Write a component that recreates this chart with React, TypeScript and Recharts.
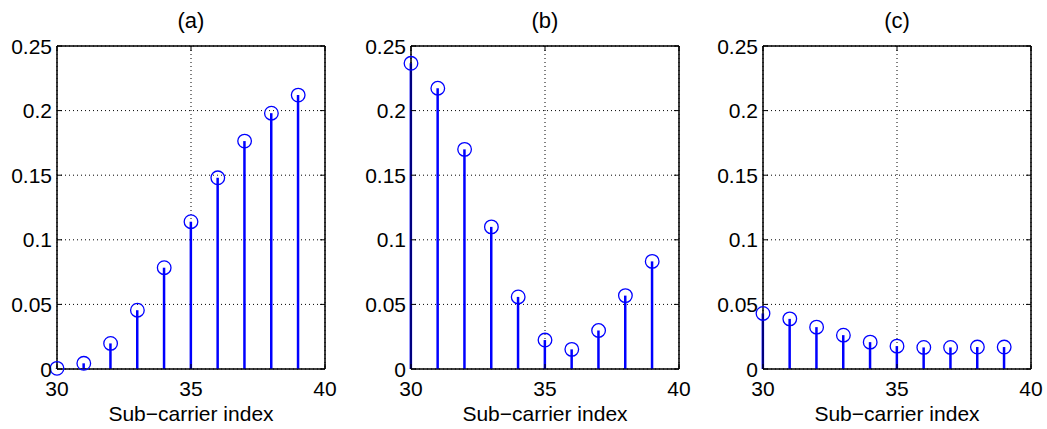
import React from 'react';
import { ComposedChart, Bar, Scatter, XAxis, YAxis, CartesianGrid, ReferenceArea } from 'recharts';

const subcarriers = [30, 31, 32, 33, 34, 35, 36, 37, 38, 39];
const seriesA = [0.0005, 0.0044, 0.0198, 0.0455, 0.0784, 0.114, 0.148, 0.1764, 0.198, 0.212];
const seriesB = [0.2366, 0.2173, 0.170, 0.110, 0.0558, 0.0224, 0.0152, 0.0298, 0.0568, 0.0833];
const seriesC = [0.043, 0.0388, 0.0324, 0.0262, 0.0208, 0.0177, 0.0167, 0.0167, 0.017, 0.017];
const xTicks = [30, 35, 40];
const yTicks = [0, 0.05, 0.1, 0.15, 0.2, 0.25];
const titles = ['(a)', '(b)', '(c)'];
const xLabel = 'Sub\u2212carrier index';

const FONT = '"Liberation Sans", Arial, Helvetica, sans-serif';
const BLUE = '#0000ff';
const TICK_FS = 21;

const BottomTick = (p: any) => (
  <g>
    <line x1={p.x} x2={p.x} y1={p.y} y2={p.y - 5} stroke="#000" />
    <text x={p.x} y={p.y + 27} textAnchor="middle" fontSize={TICK_FS} fontFamily={FONT} fill="#000">
      {p.payload.value}
    </text>
  </g>
);
const TopTick = (p: any) => <line x1={p.x} x2={p.x} y1={p.y} y2={p.y + 5} stroke="#000" />;
const LeftTick = (p: any) => (
  <g>
    <line x1={p.x} x2={p.x + 5} y1={p.y} y2={p.y} stroke="#000" />
    <text x={p.x - 5} y={p.y} dy="0.36em" textAnchor="end" fontSize={TICK_FS} fontFamily={FONT} fill="#000">
      {String(p.payload.value)}
    </text>
  </g>
);
const RightTick = (p: any) => <line x1={p.x} x2={p.x - 5} y1={p.y} y2={p.y} stroke="#000" />;

const Marker = (p: any) => (
  <circle cx={p.cx} cy={p.cy} r={6.8} fill="none" stroke={BLUE} strokeWidth={1.3} />
);

const CHART_W = 353;
const PLOT_L = 57;
const PLOT_R = 325;

function Panel({ title, values, left }: { title: string; values: number[]; left: number }) {
  const data = subcarriers.map((x, i) => ({ x, v: values[i] }));
  return (
    <div style={{ position: 'absolute', left, top: 0, width: CHART_W, height: 429 }}>
      <div
        style={{
          position: 'absolute',
          left: PLOT_L,
          width: PLOT_R - PLOT_L,
          top: 8,
          textAlign: 'center',
          fontSize: 22,
          lineHeight: '26px',
          fontFamily: FONT,
          color: '#000',
        }}
      >
        {title}
      </div>
      <ComposedChart width={CHART_W} height={429} data={data} margin={{ top: 45, right: CHART_W - PLOT_R - 1, bottom: 0, left: 0 }}>
        <CartesianGrid stroke="#000" strokeDasharray="1 3" strokeWidth={1} />
        <XAxis
          dataKey="x"
          type="number"
          domain={[30, 40]}
          ticks={xTicks}
          height={60}
          tickSize={0}
          tickMargin={0}
          tickLine={false}
          tick={<BottomTick />}
          axisLine={{ stroke: '#000' }}
          label={{ value: xLabel, position: 'insideBottom', offset: 8, fontSize: 21, fontFamily: FONT, fill: '#000' }}
        />
        <XAxis
          xAxisId="top"
          orientation="top"
          dataKey="x"
          type="number"
          domain={[30, 40]}
          ticks={xTicks}
          allowDataOverflow
          height={1}
          tickSize={0}
          tickMargin={0}
          tickLine={false}
          tick={<TopTick />}
          axisLine={{ stroke: '#000' }}
        />
        <YAxis
          type="number"
          domain={[0, 0.25]}
          ticks={yTicks}
          width={PLOT_L}
          tickSize={0}
          tickMargin={0}
          tickLine={false}
          tick={<LeftTick />}
          axisLine={{ stroke: '#000' }}
        />
        <YAxis
          yAxisId="right"
          orientation="right"
          type="number"
          domain={[0, 0.25]}
          ticks={yTicks}
          allowDataOverflow
          width={1}
          tickSize={0}
          tickMargin={0}
          tickLine={false}
          tick={<RightTick />}
          axisLine={{ stroke: '#000' }}
        />
        <ReferenceArea x1={30} x2={40} y1={0} y2={0.25} fill="none" stroke="#000" strokeWidth={1} ifOverflow="visible" />
        <Bar dataKey="v" barSize={2.5} fill={BLUE} isAnimationActive={false} />
        <Scatter dataKey="v" shape={<Marker />} isAnimationActive={false} />
      </ComposedChart>
    </div>
  );
}

export default function App() {
  const all = [seriesA, seriesB, seriesC];
  const lefts = [0, 354, 706];
  return (
    <div style={{ position: 'absolute', left: 0, top: 0, width: 1047, height: 429, background: '#fff', fontFamily: FONT }}>
      {all.map((vals, i) => (
        <Panel key={titles[i]} title={titles[i]} values={vals} left={lefts[i]} />
      ))}
    </div>
  );
}
